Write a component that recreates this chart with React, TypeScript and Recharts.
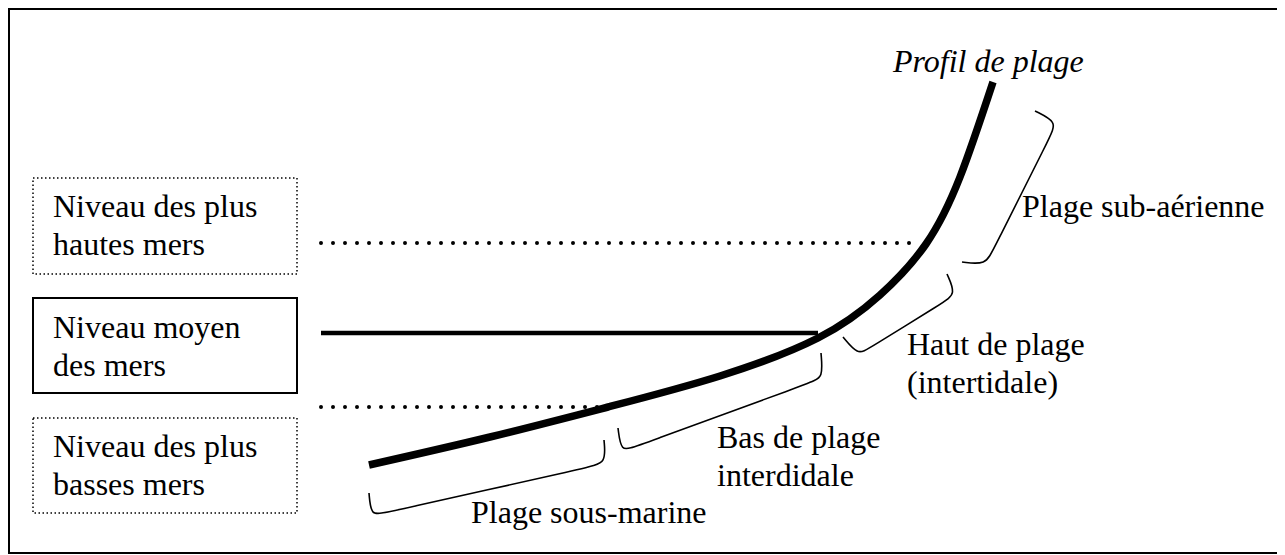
import { LineChart, Line, XAxis, YAxis, ReferenceArea, ReferenceDot } from 'recharts';

// diagram coordinates (x to the right, y downwards)
const beachProfile = [
  { x: 369, y: 465 }, { x: 490, y: 437 }, { x: 608, y: 407 }, { x: 720, y: 376 },
  { x: 818, y: 338 }, { x: 880, y: 295 }, { x: 926, y: 244 }, { x: 960, y: 177 },
  { x: 993, y: 82 },
];

const highTideLine = [{ x: 321, y: 243 }, { x: 921, y: 243 }];
const meanSeaLine = [{ x: 321, y: 333 }, { x: 818, y: 333 }];
const lowTideLine = [{ x: 321, y: 407 }, { x: 607, y: 407 }];

const braceSousMarine = [
  { x: 369, y: 493 }, { x: 371, y: 516 }, { x: 384, y: 513 },
  { x: 590, y: 467 }, { x: 606, y: 463 }, { x: 604, y: 440 },
];
const braceBasPlage = [
  { x: 618, y: 428 }, { x: 621, y: 452 }, { x: 634, y: 447 },
  { x: 812, y: 382 }, { x: 823, y: 378 }, { x: 821, y: 353 },
];
const braceHautPlage = [
  { x: 843, y: 337 }, { x: 858, y: 355 }, { x: 868, y: 349 },
  { x: 944, y: 302 }, { x: 956, y: 294 }, { x: 947, y: 274 },
];
const braceSubAerienne = [
  { x: 1035, y: 111 }, { x: 1057, y: 122 }, { x: 1051, y: 135 },
  { x: 993, y: 250 }, { x: 986, y: 265 }, { x: 962, y: 262 },
];

const levelBoxes = [
  { x1: 33, x2: 297, y1: 178, y2: 274, dotted: true },
  { x1: 33, x2: 297, y1: 298, y2: 393, dotted: false },
  { x1: 33, x2: 297, y1: 418, y2: 513, dotted: true },
];

const labels = [
  { x: 53, y: 217, lines: ['Niveau des plus', 'hautes mers'], italic: false },
  { x: 53, y: 338, lines: ['Niveau moyen', 'des mers'], italic: false },
  { x: 53, y: 457, lines: ['Niveau des plus', 'basses mers'], italic: false },
  { x: 893, y: 72, lines: ['Profil de plage'], italic: true },
  { x: 1022, y: 217, lines: ['Plage sub-aérienne'], italic: false },
  { x: 907, y: 355, lines: ['Haut de plage', '(intertidale)'], italic: false },
  { x: 717, y: 448, lines: ['Bas de plage', 'interdidale'], italic: false },
  { x: 471, y: 523, lines: ['Plage sous-marine'], italic: false },
];

const FONT = "'Liberation Serif', 'Times New Roman', 'DejaVu Serif', serif";

const textShape = (lines: string[], italic: boolean) => (p: any) => (
  <text
    x={p.cx}
    y={p.cy}
    style={{ fontFamily: FONT, fontSize: 32, fontStyle: italic ? 'italic' : 'normal', fill: '#000' }}
  >
    {lines.map((l, i) => (
      <tspan key={i} x={p.cx} dy={i === 0 ? 0 : 37.5}>{l}</tspan>
    ))}
  </text>
);

const braces = [braceSousMarine, braceBasPlage, braceHautPlage, braceSubAerienne];

export default function App() {
  return (
    <div style={{ width: 1275, height: 546, border: '2px solid #000', boxSizing: 'border-box', background: '#fff', fontFamily: FONT }}>
      <LineChart width={1271} height={542} margin={{ top: 0, right: 0, bottom: 0, left: 0 }} style={{ fontFamily: FONT }}>
        <XAxis type="number" dataKey="x" domain={[10, 1281]} allowDataOverflow hide />
        <YAxis type="number" dataKey="y" domain={[10, 552]} reversed allowDataOverflow hide />

        {levelBoxes.map((b, i) => (
          <ReferenceArea
            key={'box' + i}
            x1={b.x1} x2={b.x2} y1={b.y1} y2={b.y2}
            fill="#fff" fillOpacity={1}
            stroke="#000"
            strokeWidth={b.dotted ? 1.5 : 2}
            strokeDasharray={b.dotted ? '1.5 2.5' : undefined}
          />
        ))}

        <Line data={highTideLine} dataKey="y" type="linear" stroke="#000" strokeWidth={4}
          strokeDasharray="0 12" strokeLinecap="round" dot={false} activeDot={false} isAnimationActive={false} />
        <Line data={lowTideLine} dataKey="y" type="linear" stroke="#000" strokeWidth={4}
          strokeDasharray="0 12" strokeLinecap="round" dot={false} activeDot={false} isAnimationActive={false} />
        <Line data={meanSeaLine} dataKey="y" type="linear" stroke="#000" strokeWidth={4.5}
          dot={false} activeDot={false} isAnimationActive={false} />

        {braces.map((b, i) => (
          <Line key={'brace' + i} data={b} dataKey="y" type="basis" stroke="#000" strokeWidth={1.6}
            dot={false} activeDot={false} isAnimationActive={false} />
        ))}

        <Line data={beachProfile} dataKey="y" type="natural" stroke="#000" strokeWidth={7.5}
          dot={false} activeDot={false} isAnimationActive={false} />

        {labels.map((l, i) => (
          <ReferenceDot key={'lbl' + i} x={l.x} y={l.y} r={0} shape={textShape(l.lines, l.italic)} />
        ))}
      </LineChart>
    </div>
  );
}
